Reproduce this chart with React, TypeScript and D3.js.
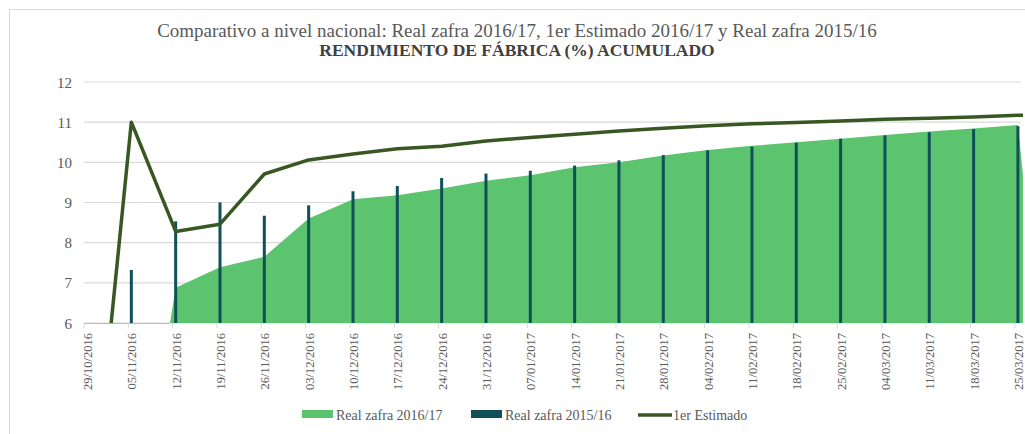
import React, { useEffect } from "react"
import * as d3 from "d3"

// weekly dates (last one lies past the right edge of the plot, as in the original crop)
const fechas = [
  "29/10/2016", "05/11/2016", "12/11/2016", "19/11/2016", "26/11/2016", "03/12/2016",
  "10/12/2016", "17/12/2016", "24/12/2016", "31/12/2016", "07/01/2017", "14/01/2017",
  "21/01/2017", "28/01/2017", "04/02/2017", "11/02/2017", "18/02/2017", "25/02/2017",
  "04/03/2017", "11/03/2017", "18/03/2017", "25/03/2017", "01/04/2017",
]
const real1617 = [
  0, 0, 6.88, 7.39, 7.65, 8.6, 9.08, 9.18, 9.35, 9.54, 9.68, 9.88,
  10.0, 10.17, 10.31, 10.41, 10.5, 10.59, 10.68, 10.77, 10.84, 10.93, 0,
]
const real1516 = [
  0, 7.32, 8.53, 9.0, 8.67, 8.93, 9.28, 9.41, 9.61, 9.72, 9.79, 9.92,
  10.05, 10.18, 10.3, 10.39, 10.49, 10.59, 10.67, 10.75, 10.83, 10.9, 0,
]
const estimado = [
  0, 11.0, 8.28, 8.46, 9.71, 10.06, 10.21, 10.34, 10.4, 10.53, 10.62, 10.7,
  10.78, 10.85, 10.91, 10.96, 10.99, 11.03, 11.07, 11.1, 11.13, 11.17, 11.21,
]
const yTicks = [6, 7, 8, 9, 10, 11, 12]
const visibleDates = fechas.slice(0, 22)

const titulo1 = "Comparativo a nivel nacional: Real zafra 2016/17, 1er Estimado 2016/17 y Real zafra 2015/16"
const titulo2 = "RENDIMIENTO DE FÁBRICA (%) ACUMULADO"

const W = 1025, H = 434
const plot = { left: 84, right: 1023, top: 82, bottom: 323 }
const verde = "#5cc36f"
const azul = "#0f5156"
const oliva = "#385723"
const gris = "#595959"
const font = "Liberation Serif"

export default function App() {
  useEffect(() => {
    document.body.style.margin = "0"
  }, [])

  const x = d3.scalePoint<string>().domain(fechas).range([87, 87 + 22 * 44.33])
  const y = d3.scaleLinear().domain([6, 12]).range([plot.bottom, plot.top])

  const rows = fechas.map((f, i) => ({ f, a: real1617[i], b: real1516[i], e: estimado[i] }))

  const area = d3.area<any>()
    .x(d => x(d.f)!)
    .y0(y(6))
    .y1(d => y(d.a))
  const line = d3.line<any>()
    .x(d => x(d.f)!)
    .y(d => y(d.e))

  return (
    <svg width={W} height={H} style={{ display: "block" }} fontFamily={font}>
      <defs>
        <clipPath id="plotClip">
          <rect x={plot.left} y={plot.top - 10} width={plot.right - plot.left} height={plot.bottom - plot.top + 10} />
        </clipPath>
      </defs>
      <rect x={0} y={0} width={W} height={H} fill="#fff" />
      {/* frame */}
      <line x1={9} x2={W} y1={9.5} y2={9.5} stroke="#d9d9d9" />
      <line x1={9.5} x2={9.5} y1={9} y2={H} stroke="#d9d9d9" />

      <text x={517} y={37} textAnchor="middle" fontFamily={font} fontSize={19} fill={gris}>{titulo1}</text>
      <text x={517} y={56} textAnchor="middle" fontFamily={font} fontSize={17.5} fontWeight="bold" fill="#404040">{titulo2}</text>

      {/* gridlines + y labels */}
      {yTicks.map(t => (
        <g key={t}>
          <line x1={plot.left} x2={1021} y1={y(t)} y2={y(t)} stroke="#d9d9d9" strokeWidth={1.2} />
          <text x={72} y={y(t) + 5.5} textAnchor="end" fontFamily={font} fontSize={15} fill={gris}>{t}</text>
        </g>
      ))}

      <g clipPath="url(#plotClip)">
        <path d={area(rows)!} fill={verde} />
        {rows.filter(d => d.b > 0).map(d => (
          <rect key={d.f} x={x(d.f)! - 1.5} width={3} y={y(d.b)} height={y(6) - y(d.b)} fill={azul} />
        ))}
        <path d={line(rows)!} fill="none" stroke={oliva} strokeWidth={3.5} strokeLinejoin="round" />
      </g>
      {/* thin strip where the 2016/17 area sits at the axis minimum */}
      <line x1={plot.left} x2={x(fechas[1])! + 38} y1={plot.bottom + 0.5} y2={plot.bottom + 0.5} stroke="#8fd49c" />

      {/* x axis ticks + labels */}
      {visibleDates.map(f => (
        <g key={f}>
          <line x1={x(f)! - 3} x2={x(f)! - 3} y1={plot.bottom} y2={plot.bottom + 5} stroke="#d9d9d9" />
          <text transform={`translate(${x(f)! + 5},${plot.bottom + 10}) rotate(-90)`} textAnchor="end"
            fontFamily={font} fontSize={12.5} fill={gris}>{f}</text>
        </g>
      ))}

      {/* legend */}
      <rect x={302} y={410} width={31} height={8} fill={verde} />
      <text x={336} y={420} fontFamily={font} fontSize={14} fill={gris}>Real zafra 2016/17</text>
      <rect x={471} y={410} width={31} height={8} fill={azul} />
      <text x={505} y={420} fontFamily={font} fontSize={14} fill={gris}>Real zafra 2015/16</text>
      <line x1={638} x2={672} y1={415} y2={415} stroke={oliva} strokeWidth={3.5} />
      <text x={673} y={420} fontFamily={font} fontSize={14} fill={gris}>1er Estimado</text>
    </svg>
  )
}
